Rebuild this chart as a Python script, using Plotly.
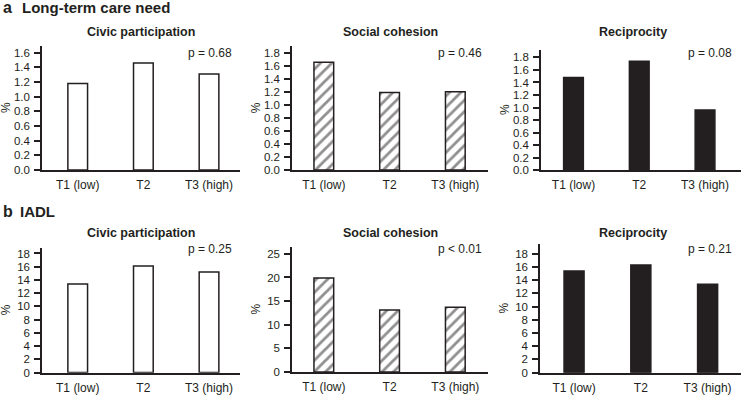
import plotly.graph_objects as go

# ---------------- data ----------------
categories = ["T1 (low)", "T2", "T3 (high)"]
panel_titles = ["Civic participation", "Social cohesion", "Reciprocity"]

ltc_civic = [1.18, 1.46, 1.31]
ltc_social = [1.65, 1.19, 1.20]
ltc_recip = [1.48, 1.74, 0.96]

iadl_civic = [13.4, 16.1, 15.2]
iadl_social = [19.9, 13.1, 13.7]
iadl_recip = [15.4, 16.3, 13.4]

ltc_p = ["p = 0.68", "p = 0.46", "p = 0.08"]
iadl_p = ["p = 0.25", "p < 0.01", "p = 0.21"]

section_letters = ["a", "b"]
section_titles = ["Long-term care need", "IADL"]

# ---------------- styling / layout ----------------
W, H = 741, 400
INK = "#231f20"
FONT = "Arial, Liberation Sans, sans-serif"

def fx(px):
    return px / W

def fy(py):
    return 1 - py / H

# pixel geometry of each panel: (x_left, x_right, y_bottom, y_top, xrange, yrange, dtick, fmt)
geom = [
    (42, 240, 172.7, 46.7, [-0.544, 2.472], [0, 1.69], 0.2, ".1f"),
    (292, 488, 172.7, 47.0, [-0.484, 2.497], [0, 1.896], 0.2, ".1f"),
    (541, 741, 172.7, 50.7, [-0.494, 2.547], [0, 1.92], 0.2, ".1f"),
    (42, 240, 378.3, 251.7, [-0.544, 2.472], [0, 18.84], 2, "d"),
    (292, 488, 377.7, 250.7, [-0.484, 2.497], [0, 26.46], 5, "d"),
    (540, 741, 378.3, 248.0, [-0.51, 2.50], [0, 19.45], 2, "d"),
]

series = [ltc_civic, ltc_social, ltc_recip, iadl_civic, iadl_social, iadl_recip]
pvals = ltc_p + iadl_p

fig = go.Figure()
annotations = []

for i, (vals, g) in enumerate(zip(series, geom)):
    n = i + 1
    xl, xr, yb, yt, xrange, yrange, dtick, fmt = g
    kind = i % 3
    if kind == 0:
        marker = dict(color="white", line=dict(color=INK, width=1.5))
    elif kind == 1:
        marker = dict(color="white", line=dict(color=INK, width=1.5),
                      pattern=dict(shape="/", fgcolor=INK, bgcolor="white",
                                   size=8, solidity=0.35))
    else:
        marker = dict(color=INK, line=dict(color=INK, width=1.5))
    fig.add_trace(go.Bar(
        x=categories, y=vals, width=0.3, marker=marker,
        xaxis="x" if n == 1 else f"x{n}", yaxis="y" if n == 1 else f"y{n}",
        showlegend=False, hoverinfo="x+y",
    ))
    xa = "xaxis" if n == 1 else f"xaxis{n}"
    ya = "yaxis" if n == 1 else f"yaxis{n}"
    fig.update_layout({
        xa: dict(domain=[fx(xl), min(fx(xr), 1.0)], range=xrange,
                 anchor="y" if n == 1 else f"y{n}",
                 showline=True, linecolor=INK, linewidth=1.5,
                 showgrid=False, zeroline=False, ticks="",
                 tickfont=dict(family=FONT, size=12, color=INK),
                 ticklabelstandoff=3, fixedrange=True),
        ya: dict(domain=[fy(yb), fy(yt)], range=yrange,
                 anchor="x" if n == 1 else f"x{n}",
                 showline=True, linecolor=INK, linewidth=1.5,
                 showgrid=False, zeroline=False,
                 ticks="outside", ticklen=6, tickwidth=1.5, tickcolor=INK,
                 dtick=dtick, tick0=0, tickformat=fmt,
                 tickfont=dict(family=FONT, size=11.5, color=INK),
                 ticklabelstandoff=2, fixedrange=True),
    })
    # subplot title
    title_y = 32.3 if i < 3 else 236.7
    title_x = [141, 390, 633][kind]
    annotations.append(dict(text=f"<b>{panel_titles[kind]}</b>", xref="paper", yref="paper",
                            x=fx(title_x), y=fy(title_y), xanchor="center", yanchor="middle",
                            showarrow=False, font=dict(family=FONT, size=12.5, color=INK)))
    # p-value
    p_right = [234, 484, 734][kind]
    p_y = 54 if i < 3 else 252.7
    annotations.append(dict(text=pvals[i], xref="paper", yref="paper",
                            x=fx(p_right), y=fy(p_y), xanchor="right", yanchor="middle",
                            showarrow=False, font=dict(family=FONT, size=12, color=INK)))
    # y-axis title "%"
    annotations.append(dict(text="%", xref="paper", yref="paper",
                            x=fx(xl - 36), y=fy((yb + yt) / 2), xanchor="center",
                            yanchor="middle", textangle=-90, showarrow=False,
                            font=dict(family=FONT, size=12, color=INK)))

# section headers
for letter, title, ycen, tx in zip(section_letters, section_titles, [8, 215], [20, 18]):
    annotations.append(dict(text=f"<b>{letter}</b>", xref="paper", yref="paper",
                            x=fx(1), y=fy(ycen), xanchor="left", yanchor="middle",
                            showarrow=False, font=dict(family=FONT, size=16, color=INK)))
    annotations.append(dict(text=f"<b>{title}</b>", xref="paper", yref="paper",
                            x=fx(tx), y=fy(ycen), xanchor="left", yanchor="middle",
                            showarrow=False, font=dict(family=FONT, size=15, color=INK)))

fig.update_layout(
    width=W, height=H,
    margin=dict(l=0, r=0, t=0, b=0),
    paper_bgcolor="white", plot_bgcolor="white",
    annotations=annotations,
    bargap=0.7,
)

fig.write_html("out.html", config={"displayModeBar": False},
               post_script="document.body.style.margin='0';document.body.style.overflow='hidden';")
